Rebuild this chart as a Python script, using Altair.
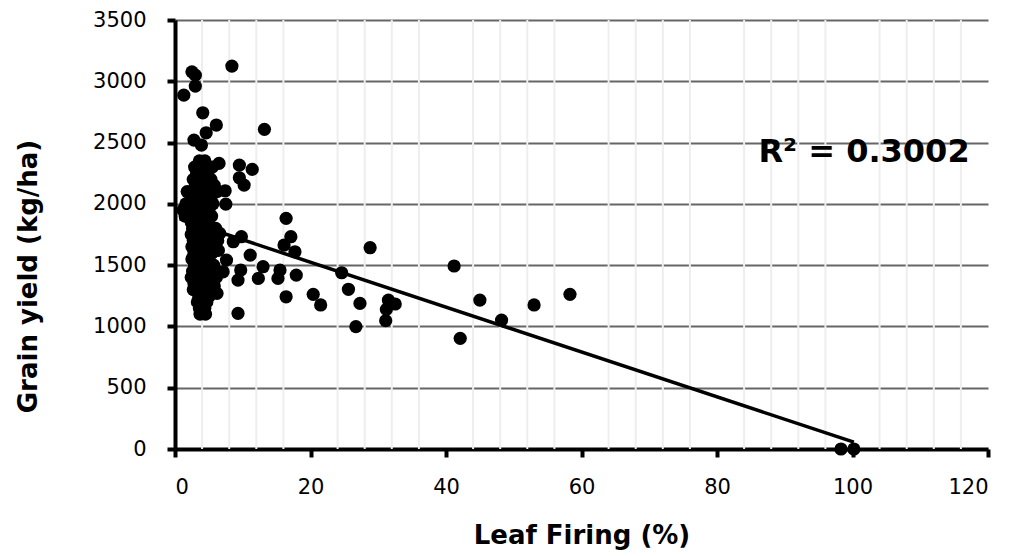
import altair as alt
import pandas as pd

# Scattered observations (Leaf Firing %, Grain yield kg/ha)
leaf_firing = [2.5, 3.0, 3.0, 1.3, 8.4, 4.1, 6.1, 4.6, 13.2, 2.8, 3.9,
               9.5, 11.4, 9.5, 10.2, 6.5, 7.4, 7.5,
               16.4, 17.1, 16.1, 17.7, 9.8, 8.6, 6.6, 11.1, 7.1, 9.7, 9.3, 13.0, 12.3, 15.5, 15.2, 17.9, 16.4, 9.3,
               6.3, 7.6, 6.2, 5.8, 6.4,
               28.8, 24.6, 25.6, 20.4, 21.5, 27.3, 26.7, 31.5, 32.5, 31.2, 31.1,
               41.2, 42.1, 45.0, 48.2, 53.0, 58.3, 98.3, 100.2]
grain_yield = [3077, 3050, 2961, 2887, 3124, 2743, 2643, 2580, 2608, 2520, 2480,
               2316, 2281, 2213, 2153, 2330, 2107, 1998,
               1882, 1732, 1664, 1609, 1732, 1691, 1759, 1582, 1446, 1460, 1378, 1487, 1392, 1460, 1392, 1419, 1242, 1107,
               1762, 1541, 1270, 1330, 1620,
               1642, 1438, 1303, 1262, 1175, 1188, 998, 1215, 1183, 1139, 1047,
               1493, 903, 1215, 1052, 1175, 1262, 0, 0]

# Dense cluster at low leaf firing
cluster_leaf = [3.6, 4.4,
                2.9, 3.9, 4.9, 5.5,
                3.2, 4.2, 4.8,
                2.7, 3.5, 4.2, 5.3,
                3.0, 3.8, 4.6, 5.8,
                1.8, 3.2, 4.0, 4.8, 6.2,
                2.4, 3.5, 4.3, 5.3,
                1.6, 2.8, 3.8, 4.6, 5.6,
                1.2, 2.3, 3.3, 4.2, 5.0,
                1.5, 2.7, 3.6, 4.4, 5.4,
                2.4, 3.1, 4.0, 4.9,
                2.6, 3.4, 4.3, 5.2, 6.0,
                2.4, 3.0, 3.8, 4.7,
                2.7, 3.5, 4.2, 5.1, 6.3,
                2.5, 3.2, 3.9, 4.8,
                2.8, 3.6, 4.4, 5.5,
                2.5, 3.3, 4.1, 5.0,
                2.9, 3.7, 4.5, 5.7,
                2.6, 3.4, 4.2, 5.0,
                2.4, 3.1, 3.9, 4.7, 6.1,
                2.8, 3.6, 4.4, 5.2,
                2.7, 3.3, 4.1, 4.9,
                3.5, 4.3, 5.1,
                3.3, 4.0, 4.7,
                3.6, 4.4,
                3.7, 4.5]
cluster_yield = [2350, 2350,
                 2300, 2300, 2300, 2300,
                 2250, 2250, 2250,
                 2200, 2200, 2200, 2200,
                 2150, 2150, 2150, 2150,
                 2100, 2100, 2100, 2100, 2100,
                 2050, 2050, 2050, 2050,
                 2000, 2000, 2000, 2000, 2000,
                 1950, 1950, 1950, 1950, 1950,
                 1900, 1900, 1900, 1900, 1900,
                 1850, 1850, 1850, 1850,
                 1800, 1800, 1800, 1800, 1800,
                 1750, 1750, 1750, 1750,
                 1700, 1700, 1700, 1700, 1700,
                 1650, 1650, 1650, 1650,
                 1600, 1600, 1600, 1600,
                 1550, 1550, 1550, 1550,
                 1500, 1500, 1500, 1500,
                 1450, 1450, 1450, 1450,
                 1400, 1400, 1400, 1400, 1400,
                 1350, 1350, 1350, 1350,
                 1300, 1300, 1300, 1300,
                 1250, 1250, 1250,
                 1200, 1200, 1200,
                 1150, 1150,
                 1100, 1100]

# Linear trendline endpoints (Excel-style, across data x-range)
trend_leaf = [0.7, 100.2]
trend_yield = [1877, 56]

# Minor vertical gridlines
minor_grid = [4, 8, 12, 16, 24, 28, 32, 36, 44, 48, 52, 56, 64, 68, 72, 76,
              84, 88, 92, 96, 104, 108, 112, 116]
x_ticks = [0, 20, 40, 60, 80, 100, 120]
y_ticks = [0, 500, 1000, 1500, 2000, 2500, 3000, 3500]

r2_text = ["R² = 0.3002"]
r2_x = [101.7]
r2_y = [2422]

FONT = "DejaVu Sans"
X_TITLE = "Leaf Firing (%)"
Y_TITLE = "Grain yield (kg/ha)"

pts = pd.DataFrame({"x": leaf_firing + cluster_leaf, "y": grain_yield + cluster_yield})
trend = pd.DataFrame({"x": trend_leaf, "y": trend_yield})
grid = pd.DataFrame({"x": minor_grid})
r2 = pd.DataFrame({"t": r2_text, "x": r2_x, "y": r2_y})

xscale = alt.Scale(domain=[0, 120], nice=False, zero=False)
yscale = alt.Scale(domain=[0, 3500], nice=False)

x_axis = alt.Axis(values=x_ticks, format="d", grid=False, labelPadding=19,
                  titleY=86, titleBaseline="middle")
y_axis = alt.Axis(values=y_ticks, format="d", grid=True, gridColor="#666666", gridWidth=2,
                  labelPadding=21, titleX=-147, titleY=256, titleBaseline="middle")

vgrid = alt.Chart(grid).mark_rule(color="#eeeeee", strokeWidth=2).encode(
    x=alt.X("x:Q", scale=xscale, axis=x_axis, title=X_TITLE),
)

points = alt.Chart(pts).mark_circle(size=175, color="black", opacity=1).encode(
    x=alt.X("x:Q", scale=xscale, axis=x_axis, title=X_TITLE),
    y=alt.Y("y:Q", scale=yscale, axis=y_axis, title=Y_TITLE),
)

line = alt.Chart(trend).mark_line(color="black", strokeWidth=3.5).encode(
    x=alt.X("x:Q", scale=xscale, axis=x_axis, title=X_TITLE),
    y=alt.Y("y:Q", scale=yscale, axis=y_axis, title=Y_TITLE),
)

label = alt.Chart(r2).mark_text(fontSize=32, fontWeight="bold", font=FONT,
                                color="black", align="center", baseline="middle").encode(
    x=alt.X("x:Q", scale=xscale, axis=x_axis, title=X_TITLE),
    y=alt.Y("y:Q", scale=yscale, axis=y_axis, title=Y_TITLE),
    text="t:N",
)

chart = alt.layer(vgrid, points, line, label).properties(
    width=813, height=429,
    autosize=alt.AutoSizeParams(type="none"),
    padding={"left": 167, "top": 12, "right": 15, "bottom": 105},
    background="white",
).configure_view(stroke=None).configure_axis(
    domainColor="black", domainWidth=4,
    tickColor="black", tickWidth=4, tickSize=8,
    labelFont=FONT, labelFontSize=21, labelColor="black",
    titleFont=FONT, titleFontSize=26, titleFontWeight="bold", titleColor="black",
)

chart.save("out.html", embed_options={"renderer": "svg", "actions": False})
